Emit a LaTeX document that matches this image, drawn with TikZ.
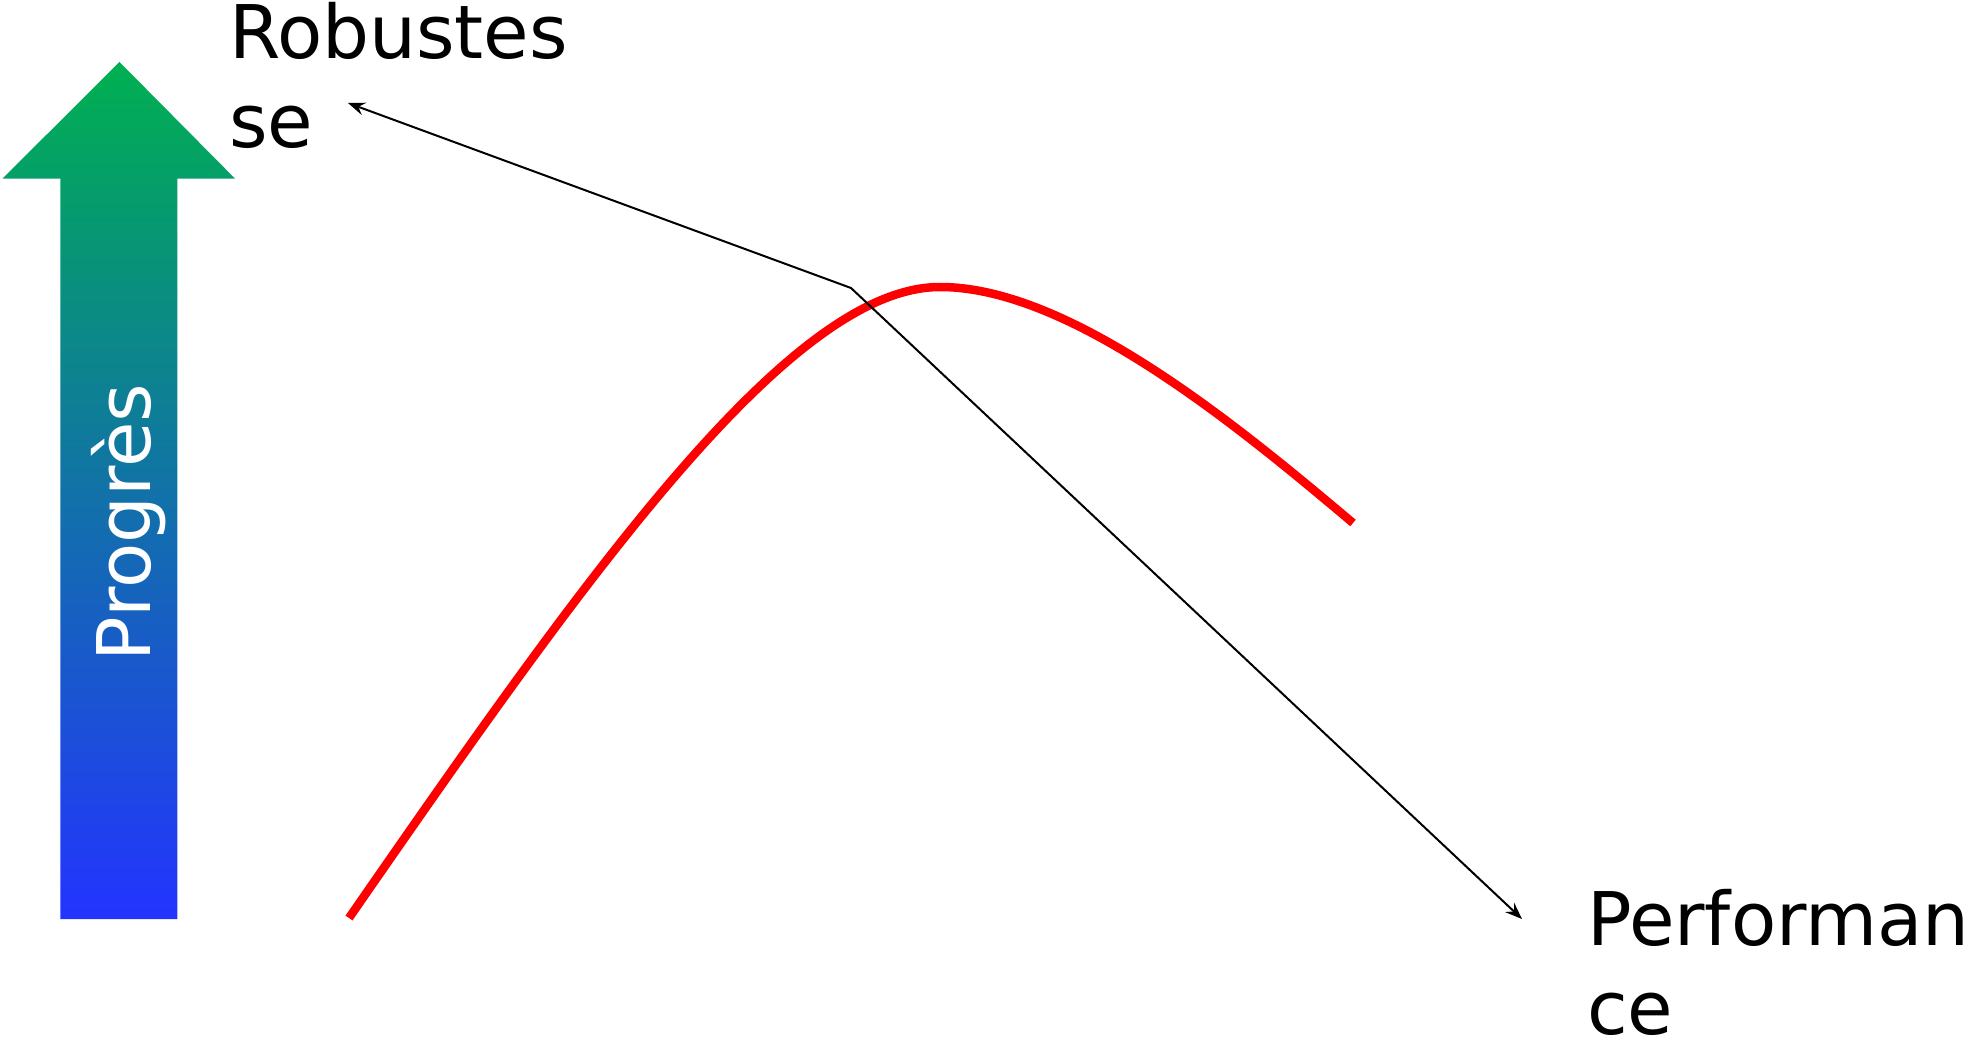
\documentclass[tikz,border=0pt]{standalone}
\usepackage{fontspec}
\setmainfont{DejaVu Sans}
\usetikzlibrary{arrows.meta}
\definecolor{gtop}{RGB}{0,176,80}
\definecolor{gbot}{RGB}{35,52,255}
\definecolor{curvered}{RGB}{255,0,0}
\tikzset{
  lbl/.style={inner sep=0pt, outer sep=0pt, font=\fontsize{74}{89}\selectfont, align=left},
  connector/.style={draw=black, line width=2pt, {Stealth[length=17pt,width=13pt,inset=6pt]}-{Stealth[length=17pt,width=13pt,inset=6pt]}},
  curve/.style={draw=curvered, line width=8.5pt}
}
\begin{document}
\begin{tikzpicture}[x=1pt,y=-1pt]
\useasboundingbox (0,0) rectangle (1972,1040);
% gradient arrow
\shade[top color=gtop, bottom color=gbot]
  (119.5,62) -- (235,178.6) -- (177.3,178.6) -- (177.3,919) -- (60.4,919) -- (60.4,178.6) -- (2.5,178.6) -- cycle;
\node[lbl, text=white, rotate=90, anchor=base west] (prog) at (150,661) {Progrès};
% labels
\node[lbl, anchor=base west] (rob1) at (229,59) {Robustes};
\node[lbl, anchor=base west] (rob2) at (229,148) {se};
\node[lbl, anchor=base west] (perf1) at (1587,945) {Performan};
\node[lbl, anchor=base west] (perf2) at (1587,1034) {ce};
% curve
\draw[curve] (349,918) .. controls (588,573) and (790,287) .. (940,287)
             .. controls (1070,287) and (1238,426) .. (1353,523);
% connector
\coordinate (robtip) at (348,103);
\coordinate (bend) at (851,288);
\coordinate (perftip) at (1522,919);
\draw[connector] (robtip) -- (bend) -- (perftip);
\end{tikzpicture}
\end{document}
